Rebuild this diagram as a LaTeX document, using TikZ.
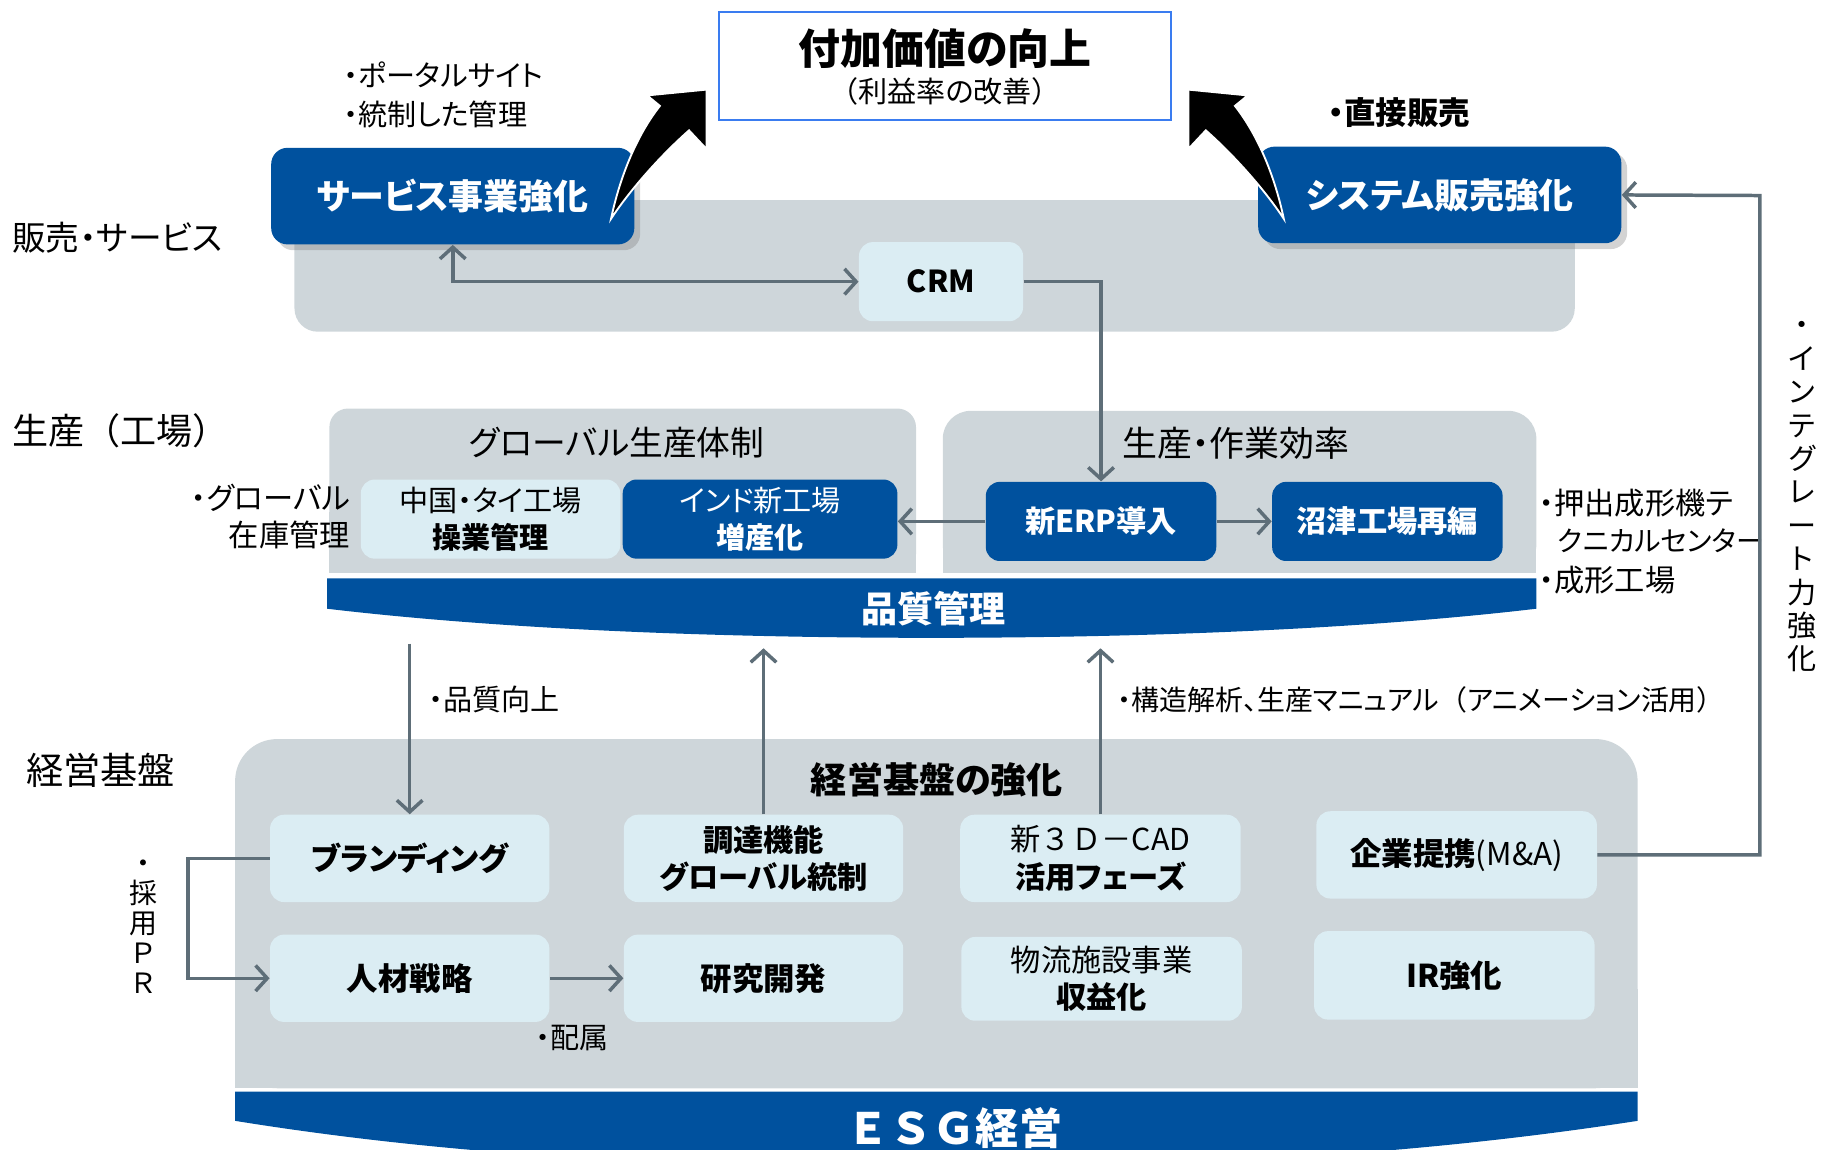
\documentclass[tikz,border=0pt]{standalone}
\usepackage{fontspec}
\setmainfont{Noto Sans CJK JP}[RawFeature=+palt]
\newfontfamily\jpfw{Noto Sans CJK JP}
\usetikzlibrary{arrows.meta,shadows}
\definecolor{dblue}{HTML}{00519E}
\definecolor{pgray}{HTML}{CED6DA}
\definecolor{lblue}{HTML}{DBEDF3}
\definecolor{agray}{HTML}{5E6E78}
\definecolor{tblue}{HTML}{3A7CF0}
\tikzset{
  gb/.tip={Straight Barb[length=5pt,width=11pt]},
  con/.style={draw=agray, line width=1.5pt},
  lbox/.style={fill=lblue, rounded corners=6pt, inner sep=0pt, align=center, text=black},
  dbox/.style={fill=dblue, rounded corners=6pt, inner sep=0pt, align=center, text=white},
  lbl/.style={inner sep=0pt, align=center},
  f12/.style={font=\fontsize{12.5}{16}\selectfont},
  blackarrow/.style={fill=black, draw=white, line width=0.8pt, line join=miter},
}
\begin{document}
\begin{tikzpicture}[x=0.5pt,y=-0.5pt]
\useasboundingbox (0,0) rectangle (1568,988);
\clip (0,0) rectangle (1568,988);

% ---------- panels ----------
\fill[pgray, rounded corners=10pt] (253,172) rectangle (1353,285);
\fill[pgray, rounded corners=8pt] (283,351) rectangle (787,492);
\fill[pgray] (283,440) rectangle (787,492);
\fill[pgray, rounded corners=12pt] (810,353) rectangle (1320,492);
\fill[pgray] (810,440) rectangle (1320,492);
\fill[pgray, rounded corners=18pt] (202,635) rectangle (1407,935);
\fill[pgray] (202,850) rectangle (1407,935);

% ---------- title ----------
\node[draw=tblue, line width=0.8pt, minimum width=194pt, minimum height=46.5pt, inner sep=0pt] (title) at (812,56.5) {};
\node[lbl, font=\fontsize{18}{20}\selectfont\bfseries] (title1) at (812,42) {付加価値の向上};
\node[lbl, font=\fontsize{12.5}{14}\selectfont] (title2) at (812,79) {{\jpfw （}利益率の改善{\jpfw ）}};

% ---------- left labels ----------
\node[lbl, anchor=west, font=\fontsize{14.5}{17}\selectfont] (lab1) at (10,204) {販売・サービス};
\node[lbl, anchor=west, font=\fontsize{15.5}{17}\selectfont\jpfw] (lab2) at (10,370) {生産（工場）};
\node[lbl, anchor=west, font=\fontsize{16}{17}\selectfont] (lab3) at (22,662) {経営基盤};

% ---------- sales ----------
\node[dbox, rounded corners=7pt, minimum width=156pt, minimum height=41.5pt, font=\fontsize{15}{17}\selectfont\bfseries,
      drop shadow={opacity=0.35, shadow xshift=2.5pt, shadow yshift=-2.5pt}] (svc) at (389,168.5) {サービス事業強化};
\node[dbox, rounded corners=7pt, minimum width=156pt, minimum height=41.5pt, font=\fontsize{15}{17}\selectfont\bfseries,
      drop shadow={opacity=0.35, shadow xshift=2.5pt, shadow yshift=-2.5pt}] (sys) at (1237,167.5) {システム販売強化};
\node[lbl, anchor=west, f12] (b1) at (295,64) {・ポータルサイト};
\node[lbl, anchor=west, f12] (b2) at (295,98) {・統制した管理};
\node[lbl, anchor=west, font=\fontsize{13.5}{16}\selectfont\bfseries] (b3) at (1141,97) {・直接販売};
\node[lbl, fill=lblue, rounded corners=6pt, minimum width=70.5pt, minimum height=34pt, font=\fontsize{13}{16}\selectfont\bfseries] (crm) at (808.5,242) {CRM};

% black curved arrows
\path[blackarrow] (525,188) .. controls (533,150) and (548,115) .. (567,91) -- (556,82) -- (607,77) -- (607,128) -- (592,112) .. controls (566,135) and (540,165) .. (525,188) -- cycle;
\path[blackarrow] (1103,188) .. controls (1095,150) and (1080,115) .. (1061,91) -- (1072,82) -- (1021,77) -- (1021,128) -- (1036,112) .. controls (1062,135) and (1088,165) .. (1103,188) -- cycle;

% ---------- production ----------
\node[lbl, font=\fontsize{14.5}{17}\selectfont] (gtitle) at (530,380) {グローバル生産体制};
\node[lbl, font=\fontsize{15}{17}\selectfont] (etitle) at (1062,381) {生産・作業効率};
\node[lbox, minimum width=111.5pt, minimum height=34pt, font=\fontsize{12.5}{16}\selectfont] (china) at (421.5,446) {中国・タイ工場\\{\bfseries 操業管理}};
\node[dbox, minimum width=118pt, minimum height=34pt, font=\fontsize{12.5}{16}\selectfont] (india) at (653,446) {インド新工場\\{\bfseries 増産化}};
\node[dbox, minimum width=99pt, minimum height=34pt, font=\fontsize{13}{16}\selectfont\bfseries] (erp) at (946,448) {新ERP導入};
\node[dbox, minimum width=99pt, minimum height=34pt, font=\fontsize{13}{16}\selectfont\bfseries] (numazu) at (1192,448) {沼津工場再編};
\node[lbl, anchor=east, align=right, font=\fontsize{13}{16}\selectfont] (gl) at (301,444) {・グローバル\\在庫管理};
\node[lbl, anchor=west, font=\fontsize{13}{16}\selectfont] (r1) at (1322,432) {・押出成形機テ};
\node[lbl, anchor=west, font=\fontsize{12}{16}\selectfont] (r2) at (1338,465) {クニカルセンター};
\node[lbl, anchor=west, font=\fontsize{13}{16}\selectfont] (r3) at (1322,498) {・成形工場};

% quality banner
\fill[dblue] (281,497) -- (1320,497) -- (1320,523) .. controls (1150,543) and (950,548) .. (800,548) .. controls (650,548) and (450,543) .. (281,523) -- cycle;
\node[lbl, text=white, font=\fontsize{15.5}{17}\selectfont\bfseries] (quality) at (802,523) {品質管理};

% ---------- management base ----------
\node[lbl, font=\fontsize{15.5}{17}\selectfont\bfseries] (mtitle) at (805,670) {経営基盤の強化};
\node[lbox, minimum width=120pt, minimum height=37.5pt, font=\fontsize{13.5}{16}\selectfont\bfseries] (brand) at (352,737.5) {ブランディング};
\node[lbox, minimum width=120pt, minimum height=37.5pt, font=\fontsize{13}{16}\selectfont\bfseries] (chou) at (656,737.5) {調達機能\\グローバル統制};
\node[lbox, minimum width=120.5pt, minimum height=37.5pt, font=\fontsize{13}{16}\selectfont] (cad) at (945.5,737.5) {新{\jpfw ３Ｄ－}CAD\\{\bfseries 活用フェーズ}};
\node[lbox, minimum width=120.5pt, minimum height=37.5pt, font=\fontsize{13.5}{16}\selectfont] (teikei) at (1251.5,734.5) {{\bfseries 企業提携}(M\&A)};
\node[lbox, minimum width=120pt, minimum height=37.5pt, font=\fontsize{13.5}{16}\selectfont\bfseries] (jinzai) at (352,840.5) {人材戦略};
\node[lbox, minimum width=120pt, minimum height=37.5pt, font=\fontsize{13.5}{16}\selectfont\bfseries] (kenkyu) at (656,840.5) {研究開発};
\node[lbox, minimum width=120.5pt, minimum height=36pt, font=\fontsize{13}{16}\selectfont] (butsu) at (946.5,841) {物流施設事業\\{\bfseries 収益化}};
\node[lbox, minimum width=120.5pt, minimum height=38pt, font=\fontsize{13.5}{16}\selectfont\bfseries] (ir) at (1249.5,838) {IR強化};

\node[lbl, anchor=west, f12] (lq) at (368,601) {・品質向上};
\node[lbl, anchor=west, font=\fontsize{12}{16}\selectfont] (ls) at (960,601) {・構造解析、生産マニュアル{\jpfw （}アニメーション活用{\jpfw ）}};
\node[lbl, anchor=west, f12] (lh) at (460,892) {・配属};
\node[lbl, font=\fontsize{12}{12.85}\selectfont] (lpr) at (123,796) {・\\採\\用\\{\jpfw Ｐ}\\{\jpfw Ｒ}};
\node[lbl, font=\fontsize{12.5}{14.35}\selectfont] (lint) at (1548,427) {・\\イ\\ン\\テ\\グ\\レ\\ー\\ト\\力\\強\\化};

% ESG banner
\fill[dblue] (202,938) -- (1407,938) -- (1407,963) .. controls (1200,995) and (1000,1003) .. (804,1003) .. controls (600,1003) and (400,995) .. (202,963) -- cycle;
\node[lbl, text=white, font=\fontsize{18.5}{20}\selectfont\bfseries\jpfw] (esg) at (820,969) {ＥＳＧ経営};

% ---------- connectors ----------
\coordinate (qdown) at (352,553);
\coordinate (qup1) at (656,557);
\coordinate (qup2) at (945.5,557);
\coordinate (rt) at (1512,168);
\draw[con, gb-gb] (svc.south) |- (crm.west);
\draw[con, -gb] (crm.east) -| (erp.north);
\draw[con, -gb] (erp.west) -- (erp.west -| india.east);
\draw[con, -gb] (erp.east) -- (numazu.west);
\draw[con, -gb] (qdown) -- (brand.north);
\draw[con, -gb] (chou.north) -- (qup1);
\draw[con, -gb] (cad.north) -- (qup2);
\draw[con, -gb] (brand.west) -- ++(-70,0) |- (jinzai.west);
\draw[con, -gb] (jinzai.east) -- (kenkyu.west);
\draw[con, -gb] (teikei.east) -| (rt) -- (sys.east);
\end{tikzpicture}
\end{document}
